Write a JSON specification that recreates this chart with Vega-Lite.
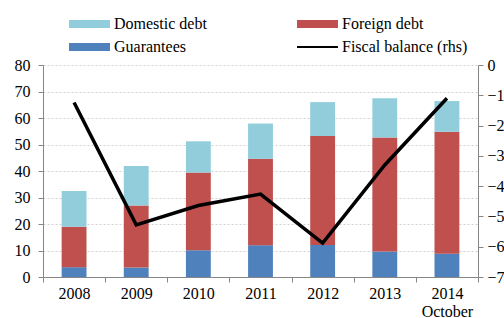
{
  "$schema": "https://vega.github.io/schema/vega-lite/v6.json",
  "width": 435,
  "height": 212,
  "autosize": {"type": "none"},
  "padding": {"left": 43, "top": 65, "right": 26, "bottom": 41},
  "config": {
    "font": "Liberation Serif",
    "view": {"stroke": null},
    "axis": {
      "labelFont": "Liberation Serif",
      "labelFontSize": 16,
      "labelColor": "#000000",
      "domainColor": "#868686",
      "tickColor": "#868686",
      "tickSize": 5,
      "title": null
    }
  },
  "datasets": {
    "debt": [
      {"year": "2008", "series": "Guarantees", "value": 3.7},
      {"year": "2008", "series": "Foreign debt", "value": 15.3},
      {"year": "2008", "series": "Domestic debt", "value": 13.5},
      {"year": "2009", "series": "Guarantees", "value": 3.6},
      {"year": "2009", "series": "Foreign debt", "value": 23.4},
      {"year": "2009", "series": "Domestic debt", "value": 14.9},
      {"year": "2010", "series": "Guarantees", "value": 10.1},
      {"year": "2010", "series": "Foreign debt", "value": 29.3},
      {"year": "2010", "series": "Domestic debt", "value": 11.8},
      {"year": "2011", "series": "Guarantees", "value": 12.0},
      {"year": "2011", "series": "Foreign debt", "value": 32.6},
      {"year": "2011", "series": "Domestic debt", "value": 13.3},
      {"year": "2012", "series": "Guarantees", "value": 12.1},
      {"year": "2012", "series": "Foreign debt", "value": 41.1},
      {"year": "2012", "series": "Domestic debt", "value": 12.8},
      {"year": "2013", "series": "Guarantees", "value": 9.6},
      {"year": "2013", "series": "Foreign debt", "value": 43.0},
      {"year": "2013", "series": "Domestic debt", "value": 14.9},
      {"year": "2014", "series": "Guarantees", "value": 8.8},
      {"year": "2014", "series": "Foreign debt", "value": 46.0},
      {"year": "2014", "series": "Domestic debt", "value": 11.6}
    ],
    "balance": [
      {"year": "2008", "series": "Fiscal balance (rhs)", "balance": -1.24},
      {"year": "2009", "series": "Fiscal balance (rhs)", "balance": -5.28},
      {"year": "2010", "series": "Fiscal balance (rhs)", "balance": -4.64},
      {"year": "2011", "series": "Fiscal balance (rhs)", "balance": -4.26},
      {"year": "2012", "series": "Fiscal balance (rhs)", "balance": -5.88},
      {"year": "2013", "series": "Fiscal balance (rhs)", "balance": -3.3},
      {"year": "2014", "series": "Fiscal balance (rhs)", "balance": -1.1}
    ]
  },
  "layer": [
    {
      "data": {"name": "debt"},
      "mark": {"type": "bar", "width": {"band": 0.4}},
      "encoding": {
        "x": {
          "field": "year", "type": "ordinal",
          "scale": {"paddingInner": 0, "paddingOuter": 0},
          "axis": {
            "tickBand": "extent",
            "labelAngle": 0,
            "labelPadding": 3,
            "labelLineHeight": 18,
            "labelExpr": "datum.value == '2014' ? ['2014', 'October'] : datum.label"
          }
        },
        "y": {
          "field": "value", "type": "quantitative", "stack": "zero",
          "scale": {"domain": [0, 80]},
          "axis": {
            "orient": "left",
            "values": [0, 10, 20, 30, 40, 50, 60, 70, 80],
            "labelPadding": 8,
            "grid": true,
            "gridColor": "#d0d0d0",
            "gridDash": [2, 2],
            "gridWidth": 1
          }
        },
        "color": {
          "field": "series", "type": "nominal",
          "scale": {
            "domain": ["Domestic debt", "Foreign debt", "Guarantees", "Fiscal balance (rhs)"],
            "range": ["#92CDDC", "#C0504D", "#4F81BD", "#000000"]
          },
          "legend": {
            "orient": "none",
            "direction": "horizontal",
            "legendX": 26,
            "legendY": -50,
            "columns": 2,
            "columnPadding": 90,
            "rowPadding": 5,
            "clipHeight": 18,
            "title": null,
            "labelFontSize": 16,
            "labelFont": "Liberation Serif",
            "labelColor": "#000000",
            "labelOffset": 4,
            "symbolType": "M-1,-0.2H1V0.2H-1Z",
            "symbolSize": 1681,
            "symbolStrokeWidth": 0,
            "encode": {
              "symbols": {
                "update": {
                  "shape": {"signal": "datum.value === 'Fiscal balance (rhs)' ? 'M-1,-0.05H1V0.05H-1Z' : 'M-1,-0.2H1V0.2H-1Z'"},
                  "fill": {"scale": "color", "field": "value"},
                  "opacity": {"value": 1}
                }
              }
            }
          }
        },
        "order": {"field": "series", "sort": "descending"}
      }
    },
    {
      "data": {"name": "balance"},
      "mark": {"type": "line", "strokeWidth": 3.5},
      "encoding": {
        "x": {"field": "year", "type": "ordinal"},
        "y": {
          "field": "balance", "type": "quantitative",
          "scale": {"domain": [-7, 0]},
          "axis": {
            "orient": "right",
            "values": [0, -1, -2, -3, -4, -5, -6, -7],
            "labelPadding": 4,
            "grid": false
          }
        },
        "color": {"field": "series", "type": "nominal"}
      }
    }
  ],
  "resolve": {"scale": {"y": "independent"}}
}
